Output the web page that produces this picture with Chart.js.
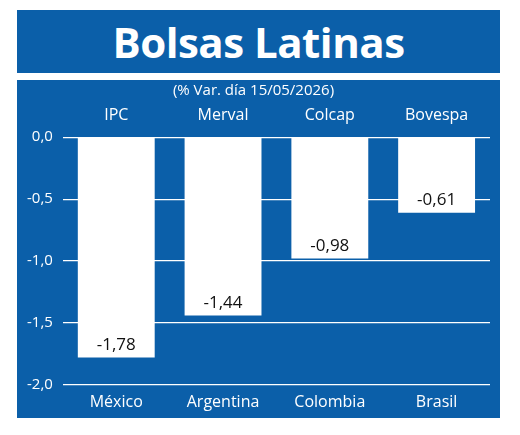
<!DOCTYPE html>
<html><head><meta charset="utf-8">
<script src="https://cdn.jsdelivr.net/npm/chart.js@4"></script>
<style>
  body { margin: 0; background: #fff; width: 520px; height: 435px; position: relative; font-family: "Open Sans", sans-serif; }
  #title { position: absolute; left: 17px; top: 10px; width: 483px; height: 63px; background: #0b5fa9;
    color: #fff; font-weight: bold; font-size: 42px; line-height: 63px; text-align: center; letter-spacing: -0.5px; }
  #box { position: absolute; left: 17px; top: 80px; width: 483px; height: 338px; background: #0b5fa9; }
</style></head>
<body>
<div id="title">Bolsas Latinas</div>
<div id="box"><canvas id="c" width="483" height="338"></canvas></div>
<script>
// data
const countries = ['México', 'Argentina', 'Colombia', 'Brasil']
const indices = ['IPC', 'Merval', 'Colcap', 'Bovespa']
const changes = [-1.78, -1.44, -0.98, -0.61]
const subtitle = '(% Var. día 15/05/2026)'

const fmt = v => v.toFixed(2).replace('.', ',')

// value labels near the bottom of each bar
const valueLabels = {
  id: 'valueLabels',
  afterDatasetsDraw(chart) {
    const ctx = chart.ctx
    ctx.save()
    ctx.fillStyle = '#111'
    ctx.font = '17px "Open Sans", sans-serif'
    ctx.textAlign = 'center'
    ctx.textBaseline = 'bottom'
    chart.getDatasetMeta(0).data.forEach((bar, i) => {
      ctx.fillText(fmt(changes[i]), bar.x, bar.y - 4)
    })
    ctx.restore()
  }
}

new Chart(document.getElementById('c'), {
  type: 'bar',
  data: {
    labels: countries,
    datasets: [{
      data: changes,
      backgroundColor: '#fff',
      borderWidth: 0,
      categoryPercentage: 0.72,
      barPercentage: 1
    }]
  },
  options: {
    responsive: false,
    animation: false,
    layout: { padding: { left: 0, right: 10, top: 0, bottom: 6 } },
    plugins: {
      legend: { display: false },
      tooltip: { enabled: false },
      title: {
        display: true, text: subtitle, color: '#fff',
        font: { size: 15, family: '"Open Sans", sans-serif', weight: 'normal' },
        padding: { top: 2, bottom: 2 }
      }
    },
    scales: {
      x: {
        position: 'bottom',
        grid: { display: false },
        border: { display: false },
        ticks: { color: '#fff', font: { size: 16, family: '"Open Sans", sans-serif' }, padding: 0 }
      },
      xTop: {
        type: 'category',
        labels: indices,
        position: 'top',
        grid: { display: false },
        border: { display: false },
        ticks: { color: '#fff', font: { size: 16, family: '"Open Sans", sans-serif' }, padding: 4 }
      },
      y: {
        min: -2, max: 0,
        grid: { color: '#fff', lineWidth: 1.2, drawTicks: false },
        border: { display: false },
        ticks: {
          stepSize: 0.5, color: '#fff', padding: 10,
          font: { size: 15, family: '"Open Sans", sans-serif' },
          callback: v => v.toFixed(1).replace('.', ',')
        }
      }
    }
  },
  plugins: [valueLabels]
})
</script>
</body></html>
